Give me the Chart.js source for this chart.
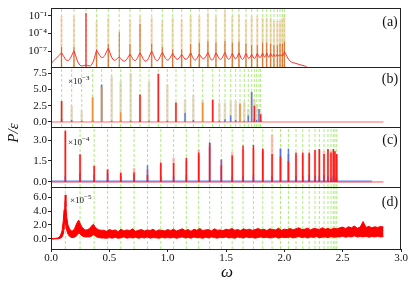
<!DOCTYPE html>
<html>
<head>
<meta charset="utf-8">
<script src="https://cdn.jsdelivr.net/npm/chart.js"></script>
<style>
html,body{margin:0;padding:0;background:#fff;}
#wrap{position:relative;width:415px;height:286px;font-family:"Liberation Serif",serif;color:#111;}
#wrap canvas{position:absolute;left:0;top:0;}
.lbl{position:absolute;white-space:nowrap;line-height:1;transform:translate(-50%,-50%);}
.exp{position:absolute;white-space:nowrap;line-height:1;font-size:9px;transform:translateY(-50%);}
.exp sup{font-size:7px;}
</style>
</head>
<body>
<div id="wrap">
<canvas id="pd" width="415" height="286"></canvas>
<canvas id="pc" width="415" height="286"></canvas>
<canvas id="pb" width="415" height="286"></canvas>
<canvas id="pa" width="415" height="286"></canvas>
<div class="lbl" style="left:390px;top:22px;font-size:14px">(a)</div>
<div class="lbl" style="left:390px;top:79px;font-size:14px">(b)</div>
<div class="lbl" style="left:390px;top:140px;font-size:14px">(c)</div>
<div class="lbl" style="left:390px;top:202px;font-size:14px">(d)</div>
<div class="exp" style="left:68px;top:80px">×10<sup>−3</sup></div>
<div class="exp" style="left:68px;top:141px">×10<sup>−4</sup></div>
<div class="exp" style="left:70px;top:199px">×10<sup>−5</sup></div>
<div class="lbl" style="left:13px;top:133px;font-size:15px;font-style:italic;transform:translate(-50%,-50%) rotate(-90deg)">P/ε</div>
<div class="lbl" style="left:227px;top:271px;font-size:17px;font-style:italic">ω</div>
</div>
<script>
// panel (a) : log scale, modes up to 2.0
var aModes = [0.09, 0.197, 0.30, 0.391, 0.491, 0.585, 0.677, 0.763, 0.863, 0.954, 1.043, 1.12, 1.197, 1.271, 1.345,
              1.414, 1.491, 1.554, 1.611, 1.671, 1.72, 1.768, 1.814, 1.849, 1.883, 1.911, 1.94, 1.963, 1.983, 2.0];
var aCusp = [5e-8, 1e-7, 4e-10, 1.3e-7, 3e-7, 1e-8, 3e-8, 5e-8, 1e-7, 6e-8, 4e-8, 2.5e-8, 5e-8, 3e-8, 6e-8,
             5e-8, 6e-8, 4e-8, 5e-8, 4e-8, 3e-8, 4e-8, 5e-8, 5e-8, 4e-8, 3e-8, 3e-8, 2.5e-8, 2.5e-8, 8e-8];
var aTrough = [8e-10, 2.5e-9, 4e-10, 4e-10, 8e-9, 3e-9, 2e-9, 2.5e-9, 2e-9, 2.5e-9, 3e-9, 4e-9, 4e-9, 3e-9, 5e-9,
               3e-9, 4e-9, 4e-9, 5e-9, 4e-9, 6e-9, 6e-9, 8e-9, 1e-8, 1e-8, 1.3e-8, 1.3e-8, 1.6e-8, 1.6e-8, 2e-8];
var aTailOmega = [2.05, 2.1, 2.15, 2.19];
var aTail = [2e-9, 8e-10, 4e-10, 2.5e-10];
var aTan = [9e-2, 9e-2, null, 1.4e-2, 5e-2, null, 2.5e-2, 9e-2, 6e-2, 1.4e-2, 5e-2, 2.5e-2, 9e-2, 9e-2, 3e-1,
            9e-2, 8e-1, 9e-2, 1.6e-1, 2.5e-2, 9e-2, 9e-2, 5e-2, 5e-2, 5e-2, 1.4e-2, 1.4e-2, 1.4e-2, 5e-2, 1.6e-1];
var aDark = [5e-7, 5e-7, null, 2e-7, 1.5e-6, 2e-4, 1.5e-6, 4e-3, 2e-6, 5e-7, 2e-7, 2e-7, 1.5e-6, 3e-6, 5e-6,
             3e-6, 5e-6, 3e-6, 4e-6, 2e-6, 1e-6, 1e-6, 3e-6, 3e-6, 2e-6, 1e-6, 1e-6, 2e-6, 2e-6, 4e-6];
var aDriveOmega = [0.30];
var aDrive = [3e-1];
var aTicks = [1e-7, 1e-4, 1e-1];
var aTickLabels = ['10⁻⁷', '10⁻⁴', '10⁻¹'];

// panel (b)
var bModes = [0.091, 0.177, 0.263, 0.357, 0.434, 0.52, 0.597, 0.683, 0.763, 0.84, 0.92, 0.997, 1.071, 1.149, 1.22,
              1.30, 1.386, 1.443, 1.491, 1.54, 1.583, 1.62, 1.657, 1.691, 1.72, 1.743, 1.763, 1.783, 1.797];
var bLight = [3.2, 2.5, 1.7, 3.8, 5.7, 7.0, 6.2, 7.5, 4.2, 6.2, 7.4, 5.7, 3.0, 3.4, 4.1,
              3.3, 3.4, 3.0, 3.0, 3.2, 3.2, 3.0, 3.1, 2.0, 4.6, 3.5, 2.7, 2.0, 1.5];
var bRed = [3.2, null, null, null, null, null, null, null, 4.2, null, 7.4, null, 3.0, null, null,
            null, 3.4, null, null, null, null, null, null, null, null, 2.5, null, null, 1.2];
var bOrange = [null, null, null, 3.8, 5.3, null, 1.5, null, null, null, null, null, null, null, null,
               3.0, null, null, null, null, null, 2.8, null, null, null, null, null, null, null];
var bBlue = [0.4, 0.3, 0.2, 0.3, 5.7, 0.2, 0.3, 0.2, 0.3, 0.2, 0.3, 0.2, 0.2, 1.4, 0.3,
             0.2, 0.3, 0.2, 0.4, 1.0, 0.3, 0.2, 0.2, 1.0, 4.6, 0.5, 0.3, 2.0, 0.3];
var bTicks = [0, 2.5, 5, 7.5];
var bTickLabels = ['0.0', '2.5', '5.0', '7.5'];

// panels (c) and (d) share the same modes
var cModes = [0.123, 0.249, 0.37, 0.485, 0.598, 0.712, 0.827, 0.941, 1.051, 1.16, 1.266, 1.36, 1.46, 1.553, 1.646,
              1.735, 1.815, 1.895, 1.967, 2.035, 2.1, 2.158, 2.213, 2.263, 2.3, 2.34, 2.374, 2.4, 2.42, 2.434, 2.449];
var cRed = [3.65, 1.97, 1.15, 0.9, 0.65, 0.7, 0.5, 1.4, 1.35, 1.73, 2.1, 2.8, 1.2, 1.9, 2.6,
            2.65, 2.4, 2.0, 1.8, 1.5, 2.1, 2.1, 2.1, 2.28, 2.35, 2.0, 2.35, 2.1, 2.35, 2.2, 2.0];
var cPink = [3.7, 2.0, 1.2, 0.95, 0.7, 1.0, 0.9, 1.3, 1.75, 1.5, 2.3, 2.5, 1.6, 2.15, 2.3,
             2.4, 2.2, 3.35, 2.4, 2.0, 1.9, 1.9, 2.0, 2.2, 2.3, 2.2, 2.3, 2.2, 2.2, 2.1, 1.9];
var cBlue = [0.4, 0.6, 0.5, 0.6, 0.4, 0.5, 1.2, 0.4, 0.4, 0.5, 1.9, 2.83, 1.6, 0.4, 0.4,
             0.5, 2.3, 0.4, 2.4, 2.4, 0.4, 0.4, 0.5, 0.4, 0.4, 0.5, 0.4, 0.3, 0.4, 0.3, 0.3];
var cBaseOmega = [0, 2.75];
var cBase = [0.05, 0.05];
var zeroOmega = [0, 2.85];
var cTicks = [0, 1.5, 3];
var cTickLabels = ['0.0', '1.5', '3.0'];

// panel (d) : low-frequency peaks, then a noisy band sampled every 0.025 from 0.45
var dHeadOmega = [0, 0.03, 0.06, 0.08, 0.095, 0.105, 0.112, 0.118, 0.122, 0.128, 0.135, 0.145, 0.16, 0.18, 0.2, 0.215,
                  0.228, 0.238, 0.245, 0.255, 0.27, 0.29, 0.31, 0.33, 0.345, 0.355, 0.365, 0.375, 0.39, 0.41, 0.43];
var dHeadUp = [0.02, 0.06, 0.15, 0.45, 1.2, 2.6, 4.2, 5.0, 6.3, 4.6, 3.1, 2.0, 1.4, 1.1, 1.4, 2.0,
               2.5, 2.7, 2.4, 2.0, 1.6, 1.3, 1.3, 1.5, 1.8, 2.0, 2.1, 1.8, 1.5, 1.3, 1.25];
var dHeadLo = [0, 0.01, 0.03, 0.1, 0.3, 0.7, 1.5, 2.2, 2.5, 2.0, 1.2, 0.7, 0.35, 0.2, 0.25, 0.4,
               0.6, 0.9, 0.8, 0.6, 0.4, 0.3, 0.3, 0.3, 0.4, 0.5, 0.6, 0.5, 0.3, 0.2, 0.15];
var dBandStart = 0.45, dBandStep = 0.025;
var dBandUp = [1.25,1.1,1.35,1.2,1.3,1.05,1.4,1.15,1.3,1.2,1.45,1.1,1.25,1.35,1.15,1.3,1.2,1.4,1.1,1.3,1.25,1.15,1.35,
  1.2,1.4,1.15,1.3,1.45,1.2,1.35,1.1,1.4,1.25,1.5,1.2,1.3,1.35,1.15,1.45,1.25,1.3,1.2,1.4,1.3,1.5,1.25,1.35,1.2,1.45,1.3,1.4,1.25,1.35,1.5,1.3,1.4,1.2,1.45,1.35,1.3,1.55,1.25,1.4,
  1.35,1.5,1.3,1.45,1.6,1.35,1.4,1.55,1.3,1.5,1.45,1.35,1.6,1.4,1.5,1.35,1.55,1.45,
  1.6,1.7,1.5,1.75,1.6,1.85,1.55,1.7,2.5,1.65,1.8,1.6,1.75,1.65,1.8,1.7];
var dBandLo = [0.15,0.1,0.2,0.12,0.25,0.1,0.18,0.3,0.12,0.2,0.15,0.25,0.1,0.22,0.15,0.3,0.12,0.2,0.18,0.1,0.25,0.15,0.2,
  0.15,0.25,0.1,0.2,0.3,0.15,0.22,0.12,0.28,0.18,0.2,0.1,0.25,0.15,0.3,0.2,0.12,0.25,0.18,0.3,0.15,0.22,0.1,0.28,0.2,0.15,0.3,0.18,0.25,0.12,0.22,0.3,0.18,0.25,0.15,0.2,0.3,0.12,0.25,0.2,
  0.2,0.3,0.15,0.25,0.35,0.2,0.28,0.15,0.3,0.22,0.35,0.18,0.25,0.3,0.2,0.35,0.25,0.3,
  0.3,0.4,0.25,0.35,0.3,0.45,0.28,0.35,0.3,0.4,0.25,0.35,0.3,0.4,0.28,0.35];
var dTicks = [0, 2, 4, 6];
var dTickLabels = ['0.0', '2.0', '4.0', '6.0'];

var xTicks = [0, 0.5, 1, 1.5, 2, 2.5, 3];
var xTickLabels = ['0.0', '0.5', '1.0', '1.5', '2.0', '2.5', '3.0'];

var tickFont = {family: 'Liberation Serif', size: 11};
var green = 'rgba(150,232,90,0.8)';

function spikes(xs, hs, base) {
  var pts = [];
  xs.forEach(function (x, i) {
    if (hs[i] == null) return;
    pts.push({x: x, y: base}, {x: x, y: hs[i]}, {x: x, y: null});
  });
  return pts;
}
function pairs(xs, ys) {
  return xs.map(function (x, i) { return {x: x, y: ys[i]}; });
}
function modeLines(xs, lo, hi) {
  return {data: spikes(xs, xs.map(function () { return hi; }), lo), borderColor: green,
          borderWidth: 1, borderDash: [3, 2]};
}
function spikeSet(xs, hs, base, color, w) {
  return {data: spikes(xs, hs, base), borderColor: color, borderWidth: w};
}

var frame = {
  id: 'frame',
  afterDraw: function (c) {
    var a = c.chartArea, ctx = c.ctx;
    ctx.save();
    ctx.strokeStyle = '#222';
    ctx.lineWidth = 1;
    ctx.strokeRect(Math.round(a.left) + 0.5, Math.round(a.top) + 0.5,
                   Math.round(a.right - a.left) - 1, Math.round(a.bottom - a.top));
    ctx.restore();
  }
};

function yAxis(type, min, max, ticks, labels) {
  return {
    type: type, min: min, max: max,
    afterFit: function (s) { s.width = 51; },
    afterBuildTicks: function (s) { s.ticks = ticks.map(function (v) { return {value: v}; }); },
    ticks: {callback: function (v, i) { return labels[i]; }, font: tickFont, color: '#111',
            padding: 1, autoSkip: false, maxRotation: 0},
    grid: {drawOnChartArea: false, tickLength: 3, color: '#222'},
    border: {display: false}
  };
}

function panel(id, y, datasets, padTop, padBottom, showX) {
  var x = {
    type: 'linear', min: 0, max: 3, display: showX,
    afterFit: function (s) { s.height = showX ? 37 : 0; },
    afterBuildTicks: function (s) { s.ticks = xTicks.map(function (v) { return {value: v}; }); },
    ticks: {callback: function (v, i) { return xTickLabels[i]; }, font: tickFont, color: '#111',
            padding: 0, autoSkip: false, maxRotation: 0},
    grid: {drawOnChartArea: false, tickLength: 3, color: '#222'},
    border: {display: false}
  };
  datasets.forEach(function (d) { d.spanGaps = false; if (d.tension == null) d.tension = 0; });
  return new Chart(document.getElementById(id), {
    type: 'line',
    data: {datasets: datasets},
    options: {
      responsive: false, animation: false, devicePixelRatio: 1,
      layout: {padding: {left: 0, right: 14, top: padTop, bottom: padBottom}},
      plugins: {legend: {display: false}, tooltip: {enabled: false}},
      elements: {point: {radius: 0, hoverRadius: 0}},
      scales: {x: x, y: y}
    },
    plugins: [frame]
  });
}

// (a) red curve: troughs between modes, cusps (doubled points) at the modes
var aCurve = [{x: 0, y: aTrough[0]}];
aModes.forEach(function (m, i) {
  if (i > 0) aCurve.push({x: (aModes[i - 1] + m) / 2, y: aTrough[i]});
  aCurve.push({x: m, y: aCusp[i]}, {x: m, y: aCusp[i]});
});
aTailOmega.forEach(function (w, i) { aCurve.push({x: w, y: aTail[i]}); });

var aMin = 2e-10, aMax = 2.6;
panel('pa', yAxis('logarithmic', aMin, aMax, aTicks, aTickLabels), [
  {data: aCurve, borderColor: '#ff2a2a', borderWidth: 1, tension: 0.4},
  spikeSet(aDriveOmega, aDrive, aMin, '#ff1010', 1.2),
  spikeSet(aModes, aDark, aMin, 'rgba(210,90,25,0.85)', 1),
  spikeSet(aModes, aTan, aMin, 'rgba(235,175,120,0.45)', 2.2),
  modeLines(aModes, aMin, aMax)
], 3, 219, false);

var bMin = -0.77, bMax = 8.42;
panel('pb', yAxis('linear', bMin, bMax, bTicks, bTickLabels), [
  spikeSet(bModes, bRed, 0, '#ff2020', 1.5),
  spikeSet(bModes, bOrange, 0, 'rgba(240,140,40,0.9)', 1.5),
  spikeSet(bModes, bBlue, 0, 'rgba(70,110,225,0.85)', 1.5),
  {data: pairs(zeroOmega, [0, 0]), borderColor: 'rgba(255,90,90,0.9)', borderWidth: 1},
  spikeSet(bModes, bLight, 0, 'rgba(215,195,165,0.6)', 2.5),
  modeLines(bModes, bMin, bMax)
], 67, 159, false);

var cMin = -0.36, cMax = 3.93;
panel('pc', yAxis('linear', cMin, cMax, cTicks, cTickLabels), [
  spikeSet(cModes, cRed, 0, '#ff1a1a', 1.5),
  spikeSet(cModes, cBlue, 0, 'rgba(60,90,230,0.8)', 1.5),
  {data: pairs(zeroOmega, [0, 0]), borderColor: 'rgba(255,60,60,0.9)', borderWidth: 1},
  {data: pairs(cBaseOmega, cBase), borderColor: 'rgba(90,110,230,0.6)', borderWidth: 2},
  spikeSet(cModes, cPink, 0, 'rgba(255,140,140,0.55)', 2.5),
  modeLines(cModes, cMin, cMax)
], 127, 99, false);

var dUpper = pairs(dHeadOmega, dHeadUp), dLower = pairs(dHeadOmega, dHeadLo);
dBandUp.forEach(function (v, i) {
  var w = dBandStart + i * dBandStep;
  dUpper.push({x: w, y: v});
  dLower.push({x: w, y: dBandLo[i]});
});
var dMin = -1.43, dMax = 7.43;
panel('pd', yAxis('linear', dMin, dMax, dTicks, dTickLabels), [
  {data: dUpper, borderColor: '#ff0000', backgroundColor: '#ff0000', borderWidth: 1, fill: '+1'},
  {data: dLower, borderColor: '#ff0000', borderWidth: 1},
  modeLines(cModes, dMin, dMax)
], 187, 0, true);
</script>
</body>
</html>
